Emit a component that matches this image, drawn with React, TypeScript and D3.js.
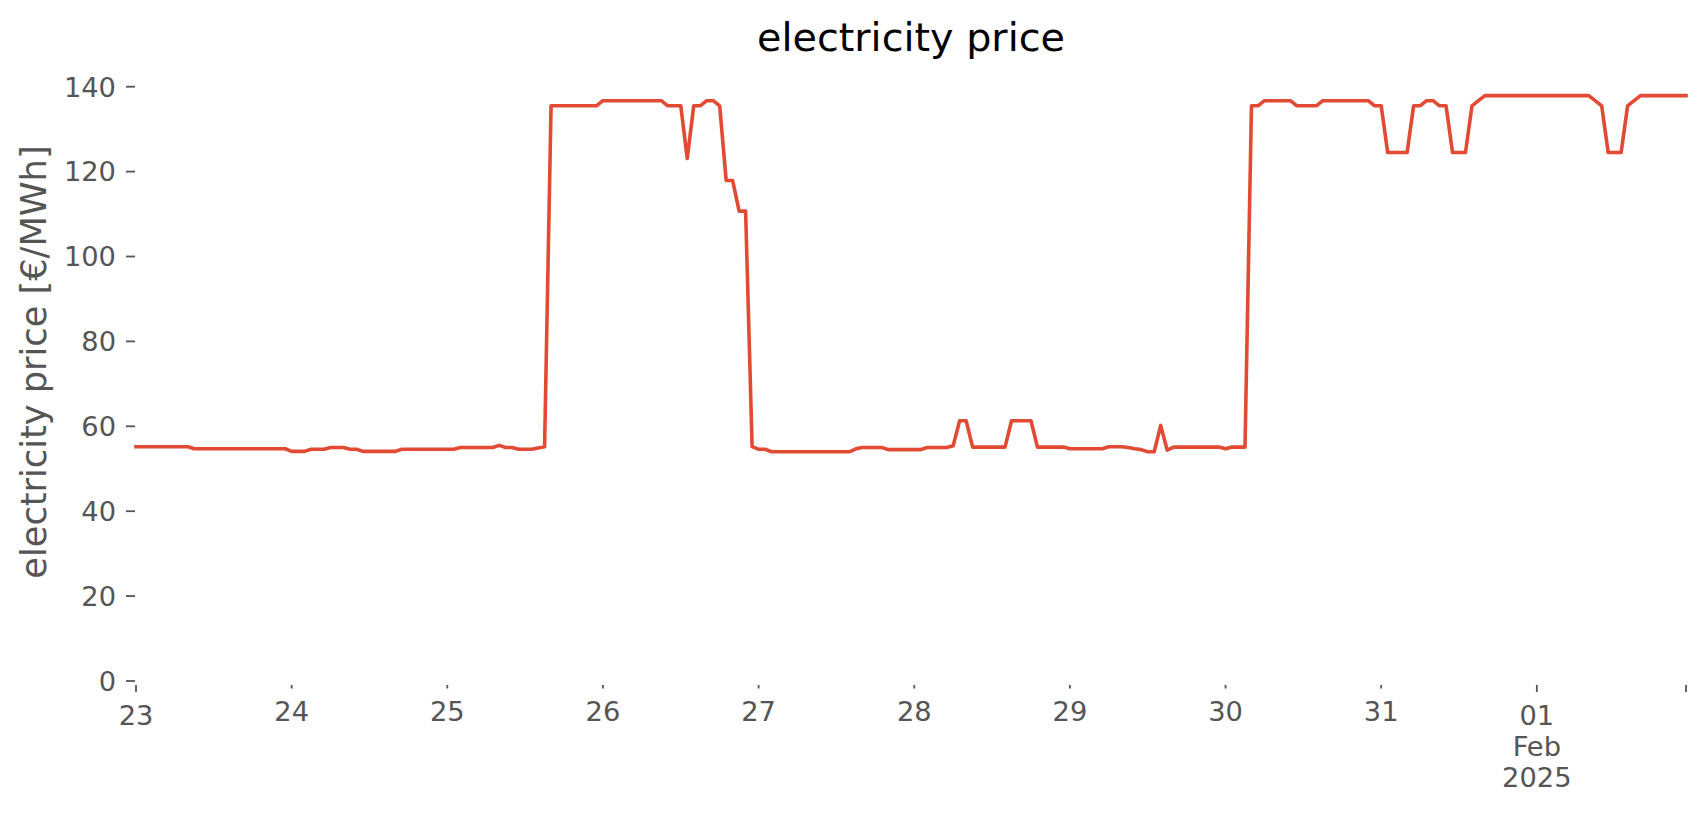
import React from "react";
import * as d3 from "d3";

// Hourly electricity price [€/MWh], one array per day (00:00 .. 23:00)
const jan23 = [55.2, 55.2, 55.2, 55.2, 55.2, 55.2, 55.2, 55.2, 55.2, 54.7, 54.7, 54.7, 54.7, 54.7, 54.7, 54.7, 54.7, 54.7, 54.7, 54.7, 54.7, 54.7, 54.7, 54.7];
const jan24 = [54.1, 54.1, 54.1, 54.6, 54.6, 54.6, 55.0, 55.0, 55.0, 54.6, 54.6, 54.1, 54.1, 54.1, 54.1, 54.1, 54.1, 54.6, 54.6, 54.6, 54.6, 54.6, 54.6, 54.6];
const jan25 = [54.6, 54.6, 55.0, 55.0, 55.0, 55.0, 55.0, 55.0, 55.5, 55.0, 55.0, 54.6, 54.6, 54.6, 54.9, 55.2, 135.5, 135.5, 135.5, 135.5, 135.5, 135.5, 135.5, 135.5];
const jan26 = [136.7, 136.7, 136.7, 136.7, 136.7, 136.7, 136.7, 136.7, 136.7, 136.7, 135.5, 135.5, 135.5, 123.1, 135.5, 135.5, 136.7, 136.7, 135.5, 117.9, 117.9, 110.7, 110.7, 55.2];
const jan27 = [54.6, 54.6, 54.0, 54.0, 54.0, 54.0, 54.0, 54.0, 54.0, 54.0, 54.0, 54.0, 54.0, 54.0, 54.0, 54.7, 55.0, 55.0, 55.0, 55.0, 54.5, 54.5, 54.5, 54.5];
const jan28 = [54.5, 54.5, 55.0, 55.0, 55.0, 55.0, 55.4, 61.3, 61.3, 55.1, 55.1, 55.1, 55.1, 55.1, 55.1, 61.3, 61.3, 61.3, 61.3, 55.1, 55.1, 55.1, 55.1, 55.1];
const jan29 = [54.7, 54.7, 54.7, 54.7, 54.7, 54.7, 55.2, 55.2, 55.2, 55.0, 54.7, 54.5, 54.0, 54.0, 60.2, 54.4, 55.1, 55.1, 55.1, 55.1, 55.1, 55.1, 55.1, 55.1];
const jan30 = [54.7, 55.1, 55.1, 55.1, 135.5, 135.5, 136.7, 136.7, 136.7, 136.7, 136.7, 135.5, 135.5, 135.5, 135.5, 136.7, 136.7, 136.7, 136.7, 136.7, 136.7, 136.7, 136.7, 135.5];
const jan31 = [135.5, 124.5, 124.5, 124.5, 124.5, 135.5, 135.5, 136.7, 136.7, 135.5, 135.5, 124.5, 124.5, 124.5, 135.5, 136.7, 137.9, 137.9, 137.9, 137.9, 137.9, 137.9, 137.9, 137.9];
const feb01 = [137.9, 137.9, 137.9, 137.9, 137.9, 137.9, 137.9, 137.9, 137.9, 136.7, 135.5, 124.5, 124.5, 124.5, 135.5, 136.7, 137.9, 137.9, 137.9, 137.9, 137.9, 137.9, 137.9, 137.9];

const days = [jan23, jan24, jan25, jan26, jan27, jan28, jan29, jan30, jan31, feb01];
const yTicks = [0, 20, 40, 60, 80, 100, 120, 140];

const title = "electricity price";
const yLabel = "electricity price [€/MWh]";

const start = new Date(Date.UTC(2025, 0, 23, 0));
const end = new Date(Date.UTC(2025, 1, 1, 23));

const FONT = "'DejaVu Sans', sans-serif";
const GREY = "#555555";
const RED = "#E24A33";

export default function App() {
  const prices = days.flat();
  const data = prices.map((v, i) => ({ t: d3.utcHour.offset(start, i), v }));

  const x = d3.scaleUtc().domain([start, end]).range([136, 1686]);
  const y = d3.scaleLinear().domain([0, 140]).range([681, 86.7]);

  const line = d3
    .line<{ t: Date; v: number }>()
    .x((d) => x(d.t))
    .y((d) => y(d.v));

  const dayTicks = d3.utcDay.range(start, end);
  const fmtDay = d3.utcFormat("%d");
  const axisY = 685;

  const isMajor = (d: Date) => d.getUTCDate() === 1 || +d === +start;

  return (
    <svg
      width={1706}
      height={815}
      style={{ position: "absolute", left: 0, top: 0, background: "#fff" }}
      fontFamily={FONT}
    >
      <rect x={0} y={0} width={1706} height={815} fill="#fff" />
      <text x={911} y={51} textAnchor="middle" fontSize={39.7} fill="#000">
        {title}
      </text>

      {/* y axis */}
      {yTicks.map((t) => (
        <g key={t}>
          <line x1={126} x2={135} y1={y(t)} y2={y(t)} stroke={GREY} strokeWidth={1.8} />
          <text
            x={116}
            y={y(t)}
            dy="0.36em"
            textAnchor="end"
            fontSize={27.3}
            fill={GREY}
          >
            {t}
          </text>
        </g>
      ))}
      <text
        transform={`translate(46, 362) rotate(-90)`}
        textAnchor="middle"
        fontSize={35.2}
        fill={GREY}
      >
        {yLabel}
      </text>

      {/* x axis */}
      {dayTicks.map((d) => {
        const major = isMajor(d);
        const len = major ? 7 : 3.5;
        const cx = x(d);
        const base = axisY + len + 32.5;
        return (
          <g key={+d}>
            <line x1={cx} x2={cx} y1={axisY} y2={axisY + len} stroke={GREY} strokeWidth={1.8} />
            <text x={cx} y={base} textAnchor="middle" fontSize={27.3} fill={GREY}>
              {fmtDay(d)}
            </text>
            {d.getUTCDate() === 1 && (
              <>
                <text x={cx} y={base + 31} textAnchor="middle" fontSize={27.3} fill={GREY}>
                  {d3.utcFormat("%b")(d)}
                </text>
                <text x={cx} y={base + 62} textAnchor="middle" fontSize={27.3} fill={GREY}>
                  {d3.utcFormat("%Y")(d)}
                </text>
              </>
            )}
          </g>
        );
      })}
      <line
        x1={x(end)}
        x2={x(end)}
        y1={axisY}
        y2={axisY + 7}
        stroke={GREY}
        strokeWidth={1.8}
      />

      <path
        d={line(data) || ""}
        fill="none"
        stroke={RED}
        strokeWidth={3.6}
        strokeLinejoin="round"
        strokeLinecap="square"
      />
    </svg>
  );
}
